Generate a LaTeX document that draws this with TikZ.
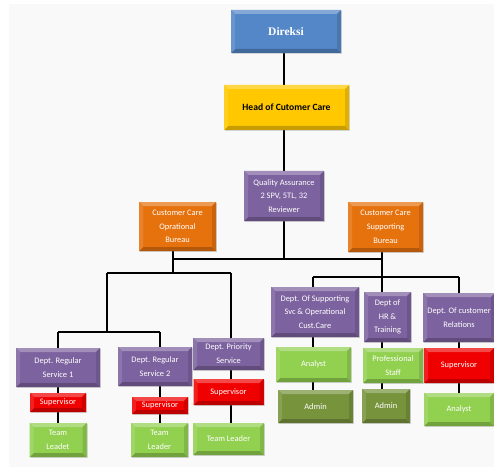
\documentclass[tikz,border=0pt]{standalone}
\usepackage{fontspec}
\setmainfont{Carlito}
\newfontfamily\titleserif{Liberation Serif}
\usetikzlibrary{shadows}

\definecolor{backgray}{RGB}{248,249,248}
\definecolor{cblue}{RGB}{84,135,200}
\definecolor{cgold}{RGB}{255,200,0}
\definecolor{cpurple}{RGB}{124,98,158}
\definecolor{corange}{RGB}{230,114,14}
\definecolor{cred}{RGB}{240,0,0}
\definecolor{cgreen}{RGB}{146,208,80}
\definecolor{colive}{RGB}{119,147,60}

\pgfdeclarelayer{backdrop}
\pgfdeclarelayer{wires}
\pgfsetlayers{backdrop,wires,main}

\tikzset{
  % rectangle with a bevelled rim and a soft drop shadow
  bevelbox/.style={
    rectangle, fill=#1, text=white, align=center, inner sep=1pt,
    font=\fontsize{8.4}{13.8}\selectfont,
    drop shadow={shadow xshift=1pt, shadow yshift=-1.3pt, opacity=0.3},
    path picture={
      \fill[#1!72!white]
        (path picture bounding box.north west) -- (path picture bounding box.north east)
        -- ([shift={(-4pt,-4pt)}]path picture bounding box.north east)
        -- ([shift={(4pt,-4pt)}]path picture bounding box.north west) -- cycle;
      \fill[#1!78!black]
        (path picture bounding box.south west) -- (path picture bounding box.south east)
        -- ([shift={(-4pt,4pt)}]path picture bounding box.south east)
        -- ([shift={(4pt,4pt)}]path picture bounding box.south west) -- cycle;
      \fill[#1!88!white]
        (path picture bounding box.north west) -- ([shift={(4pt,-4pt)}]path picture bounding box.north west)
        -- ([shift={(4pt,4pt)}]path picture bounding box.south west)
        -- (path picture bounding box.south west) -- cycle;
      \fill[#1!88!black]
        (path picture bounding box.north east) -- ([shift={(-4pt,-4pt)}]path picture bounding box.north east)
        -- ([shift={(-4pt,4pt)}]path picture bounding box.south east)
        -- (path picture bounding box.south east) -- cycle;
    }},
  boxsize/.style 2 args={minimum width=#1pt, minimum height=#2pt},
  wire/.style={draw=black, line width=1.5pt},
}

\begin{document}
\begin{tikzpicture}[x=1pt, y=-1pt]
\useasboundingbox (0,0) rectangle (494,470);
\begin{pgfonlayer}{backdrop}
  \fill[backgray] (9,4) rectangle (494,467);
\end{pgfonlayer}

% top of the chart
\node[bevelbox=cblue, boxsize={110}{43}, font=\titleserif\bfseries\fontsize{11.5}{13}\selectfont] (dir) at (286,31.5) {Direksi};
\node[bevelbox=cgold, boxsize={125}{45}, text=black, font=\bfseries\fontsize{9.6}{12}\selectfont] (head) at (286.5,107.5) {Head of Cutomer Care};
\node[bevelbox=cpurple, boxsize={80}{50}] (qa) at (284,196) {Quality Assurance\\2 SPV, 5TL, 32\\Reviewer};

% bureaus
\node[bevelbox=corange, boxsize={77}{49}] (ccop) at (177.5,226.5) {Customer Care\\Oprational\\Bureau};
\node[bevelbox=corange, boxsize={75}{50}] (ccsup) at (385.5,227) {Customer Care\\Supporting\\Bureau};

% operational departments
\node[bevelbox=cpurple, boxsize={84}{39}] (rs1) at (58,367.5) {Dept. Regular\\Service 1};
\node[bevelbox=cred, boxsize={56}{19}] (sup1) at (58,402.5) {Supervisor};
\node[bevelbox=cgreen, boxsize={57}{34}] (tl1) at (58,440) {Team\\Leadet};

\node[bevelbox=cpurple, boxsize={74}{39}] (rs2) at (155,366.5) {Dept. Regular\\Service 2};
\node[bevelbox=cred, boxsize={56}{17}] (sup2) at (160,405.5) {Supervisor};
\node[bevelbox=cgreen, boxsize={57}{34}] (tl2) at (159.5,440) {Team\\Leader};

\node[bevelbox=cpurple, boxsize={71}{32}] (ps) at (228.5,354) {Dept. Priority\\Service};
\node[bevelbox=cred, boxsize={70}{26}] (sup3) at (228.5,392) {Supervisor};
\node[bevelbox=cgreen, boxsize={71}{32}] (tl3) at (228.5,439) {Team Leader};

% supporting departments
\node[bevelbox=cpurple, boxsize={88}{50}] (dsvc) at (315,312) {Dept. Of Supporting\\Svc \& Operational\\Cust.Care};
\node[bevelbox=cgreen, boxsize={75}{35}] (an1) at (313.5,364.5) {Analyst};
\node[bevelbox=colive, boxsize={75}{33}] (ad1) at (315.5,406.5) {Admin};

\node[bevelbox=cpurple, boxsize={47}{50}] (hr) at (387.5,317) {Dept of\\HR \&\\Training};
\node[bevelbox=cgreen, boxsize={60}{35}] (prof) at (393,365.5) {Professional\\Staff};
\node[bevelbox=colive, boxsize={48}{34}] (ad2) at (386,406) {Admin};

\node[bevelbox=cpurple, boxsize={72}{49}] (rel) at (459,317.5) {Dept. Of customer\\Relations};
\node[bevelbox=cred, boxsize={70}{35}] (sup4) at (459,365.5) {Supervisor};
\node[bevelbox=cgreen, boxsize={70}{33}] (an2) at (459,409.5) {Analyst};

% junction points of the connector tree
\coordinate (jTop) at (284,259);
\coordinate (jL) at (173,273);
\coordinate (jR) at (382,277);
\coordinate (jLL) at (107,273);
\coordinate (jLR) at (231,273);
\coordinate (jLLd) at (107,332);
\coordinate (jC1) at (58,332);
\coordinate (jC2) at (160,332);
\coordinate (jR1) at (313,277);
\coordinate (jR3) at (459,277);

\begin{pgfonlayer}{wires}
  \draw[wire] (dir.south -| qa.south) -- (head.north -| qa.south);
  \draw[wire] (head.south -| qa.north) -- (qa.north);
  \draw[wire] (qa.south) -- (jTop);
  \draw[wire] (jL |- jTop) -- (jR |- jTop);
  \draw[wire] (ccop.south -| jL) -- (jL);
  \draw[wire] (ccsup.south -| jR) -- (jR);
  % operational branch
  \draw[wire] (jLL) -- (jLR);
  \draw[wire] (jLL) -- (jLLd);
  \draw[wire] (jC1) -- (jC2);
  \draw[wire] (jC1) -- (rs1.north);
  \draw[wire] (jC2) -- (rs2.north -| jC2);
  \draw[wire] (jLR) -- (ps.north -| jLR);
  \draw[wire] (rs1.south) -- (sup1.north);
  \draw[wire] (sup1.south) -- (tl1.north);
  \draw[wire] (rs2.south -| jC2) -- (sup2.north -| jC2);
  \draw[wire] (sup2.south -| jC2) -- (tl2.north -| jC2);
  \draw[wire] (ps.south -| jLR) -- (sup3.north -| jLR);
  \draw[wire] (sup3.south -| jLR) -- (tl3.north -| jLR);
  % supporting branch
  \draw[wire] (jR1) -- (jR3);
  \draw[wire] (jR1) -- (dsvc.north -| jR1);
  \draw[wire] (jR) -- (hr.north -| jR);
  \draw[wire] (jR3) -- (rel.north);
  \draw[wire] (dsvc.south -| jR1) -- (an1.north -| jR1);
  \draw[wire] (an1.south -| jR1) -- (ad1.north -| jR1);
  \draw[wire] (hr.south -| jR) -- (prof.north -| jR);
  \draw[wire] (prof.south -| jR) -- (ad2.north -| jR);
  \draw[wire] (rel.south) -- (sup4.north);
  \draw[wire] (sup4.south) -- (an2.north);
\end{pgfonlayer}
\end{tikzpicture}
\end{document}
